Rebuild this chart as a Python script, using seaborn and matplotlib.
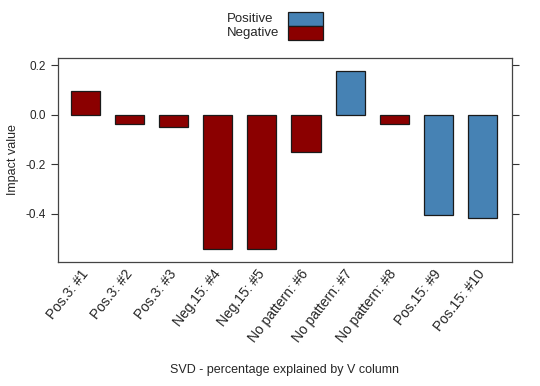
import numpy as np
import pandas as pd
import matplotlib
matplotlib.use('Agg')
import matplotlib.pyplot as plt
from matplotlib.patches import Rectangle
import seaborn as sns

# data
labels = ['Pos.3: #1', 'Pos.3: #2', 'Pos.3: #3', 'Neg.15: #4', 'Neg.15: #5',
          'No pattern: #6', 'No pattern: #7', 'No pattern: #8', 'Pos.15: #9', 'Pos.15: #10']
impact = [0.097, -0.035, -0.05, -0.543, -0.543, -0.151, 0.178, -0.035, -0.403, -0.418]
direction = ['Negative', 'Negative', 'Negative', 'Negative', 'Negative',
             'Negative', 'Positive', 'Negative', 'Positive', 'Positive']
yticks = [-0.4, -0.2, 0.0, 0.2]

colors = {'Positive': '#4682B4', 'Negative': '#8B0000'}

df = pd.DataFrame({'label': labels, 'impact': impact, 'direction': direction})

sns.set_style('white')
plt.rcParams['font.family'] = ['Liberation Sans', 'DejaVu Sans']

fig = plt.figure(figsize=(5.4, 3.86), dpi=100)
ax = fig.add_axes([58/540, 1-262/386, (512-58)/540, (262-58)/386])

sns.barplot(data=df, x='label', y='impact', hue='direction', palette=colors,
            order=labels, width=0.66, edgecolor='#1a1a1a', linewidth=0.9,
            saturation=1, legend=False, ax=ax)

ax.set_xlim(-0.62, 9.67)
ax.set_ylim(-0.594, 0.23)
ax.set_yticks(yticks)
ax.set_yticklabels(['%.1f' % v for v in yticks], fontsize=8.5)
ax.tick_params(axis='y', which='both', direction='out', length=5, width=0.8,
               color='#333333', left=True, right=True, labelleft=True, labelright=False)
ax.tick_params(axis='x', length=0, pad=7)
plt.setp(ax.get_xticklabels(), rotation=52, ha='right', va='center',
         rotation_mode='anchor', fontsize=10)

for s in ax.spines.values():
    s.set_visible(True)
    s.set_color('#444444')
    s.set_linewidth(0.9)

ax.set_ylabel('Impact value', fontsize=9)
ax.yaxis.set_label_coords(-0.085, 0.5)
ax.set_xlabel('SVD - percentage explained by V column', fontsize=9)
ax.xaxis.set_label_coords(0.5, -0.50)

# legend at the top: text on the left, stacked boxes on the right
for i, key in enumerate(['Positive', 'Negative']):
    y0 = 386 - 26 - i*14
    fig.text(227/540, (y0 + 7)/386, key, fontsize=9.5, ha='left', va='center')
    fig.patches.append(Rectangle((288/540, y0/386), 35/540, 14/386,
                                 transform=fig.transFigure, facecolor=colors[key],
                                 edgecolor='#1a1a1a', linewidth=0.9))

plt.savefig('out.png', dpi=100)
